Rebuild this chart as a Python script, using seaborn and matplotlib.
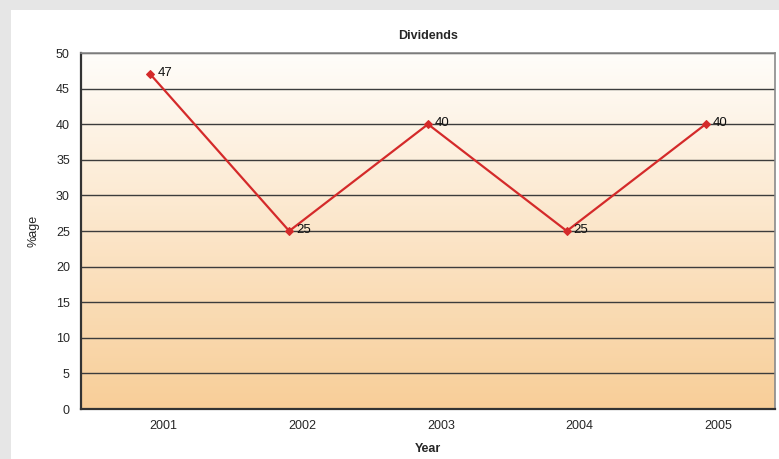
import numpy as np
import pandas as pd
import seaborn as sns
import matplotlib.pyplot as plt
import matplotlib.transforms as mtransforms
from matplotlib.patches import Rectangle

# -----------------------------
# DATA
# -----------------------------
years = ["2001", "2002", "2003", "2004", "2005"]
dividends = [47, 25, 40, 25, 40]
y_ticks = [0, 5, 10, 15, 20, 25, 30, 35, 40, 45, 50]

df = pd.DataFrame({"pos": np.arange(len(years)), "year": years, "dividend": dividends})

# -----------------------------
# FIGURE
# -----------------------------
sns.set_style("white")
plt.rcParams["font.family"] = ["Liberation Sans", "DejaVu Sans"]

fig = plt.figure(figsize=(7.79, 4.59), dpi=100)
fig.patch.set_facecolor("#e6e6e6")
# white chart sheet over the grey textured border
fig.patches.append(Rectangle((11 / 779, 0), 1, 1 - 10 / 459,
                             transform=fig.transFigure, facecolor="white",
                             edgecolor="none", zorder=-10))

ax = fig.add_axes([81 / 779, 1 - 409 / 459, (775 - 81) / 779, (409 - 53) / 459])
ax.set_facecolor("none")

# gradient background
grad = np.linspace(0, 1, 256).reshape(-1, 1)
top = np.array([255, 253, 250]) / 255
bottom = np.array([248, 206, 152]) / 255
img = top + (bottom - top) * grad[..., None]
ax.imshow(img, extent=(-0.5, 4.5, 0, 50), aspect="auto", origin="upper", zorder=0)

ax.set_xlim(-0.5, 4.5)
ax.set_ylim(0, 50)
ax.set_yticks(y_ticks)
for t in y_ticks[1:]:
    ax.axhline(t, color="#3c3c3c", lw=1, zorder=1)

sns.lineplot(data=df, x="pos", y="dividend", ax=ax, color="#d42a2a", lw=1.6,
             marker="D", markersize=4, markeredgecolor="#d42a2a", zorder=3)

for x, y in zip(df["pos"], df["dividend"]):
    ax.annotate(str(y), (x, y), xytext=(5, 1), textcoords="offset points",
                ha="left", va="center", fontsize=9.5, color="#111111", zorder=4)

# category axis: ticks between categories
ax.set_xticks(np.arange(-0.5, 5, 1))
ax.set_xticklabels([])
ax.set_xticks(np.arange(len(years)), minor=True)
ax.set_xticklabels(years, minor=True)
ax.tick_params(axis="x", which="major", direction="out", length=5, color="#333333")
ax.tick_params(axis="x", which="minor", length=0, pad=8, labelsize=9)
ax.tick_params(axis="y", direction="out", length=5, color="#333333", labelsize=9, pad=3)

# labels sit a little right of the category centres in the original
shift = mtransforms.ScaledTranslation(13 / 100, 0, fig.dpi_scale_trans)
for lbl in ax.get_xticklabels(minor=True):
    lbl.set_transform(lbl.get_transform() + shift)

for side in ["left", "bottom"]:
    ax.spines[side].set_color("#333333")
    ax.spines[side].set_linewidth(1.6)
for side in ["top", "right"]:
    ax.spines[side].set_color("#8a8a8a")
    ax.spines[side].set_linewidth(1.2)

ax.set_title("Dividends", fontsize=9, fontweight="bold", pad=10)
ax.set_xlabel("Year", fontsize=9, fontweight="bold", labelpad=8)
ax.set_ylabel("%age", fontsize=9, labelpad=12)

fig.savefig("out.png", dpi=100, facecolor=fig.get_facecolor())
